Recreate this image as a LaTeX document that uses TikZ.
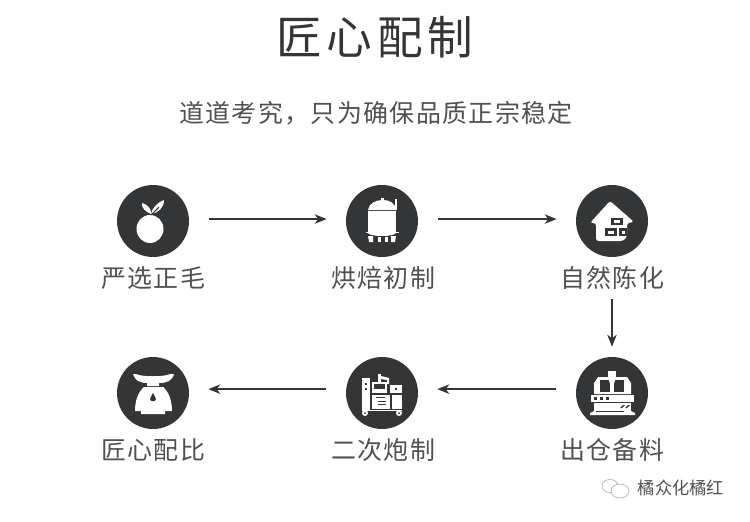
\documentclass[tikz,border=0pt]{standalone}
\usepackage{fontspec}
\setmainfont{Noto Sans CJK SC}
\newfontfamily\titlefont[LetterSpace=10]{Noto Sans CJK SC}
\newfontfamily\labelfont[LetterSpace=5.6]{Noto Sans CJK SC}
\usetikzlibrary{arrows.meta}
\definecolor{ink}{HTML}{333536}
\definecolor{caption}{HTML}{505050}

\begin{document}
\begin{tikzpicture}[x=0.02cm, y=-0.02cm]
	\tikzset{vertex/.style = {shape=circle,fill=ink,minimum size=1.44cm,inner sep=0pt}}
	\tikzset{edge/.style = {-{Stealth[length=6.8pt,width=5.4pt,inset=2pt]},draw=ink,line width=0.85pt,shorten >=0.38cm,shorten <=0.4cm}}
	\tikzset{caption/.style = {font=\labelfont\fontsize{14.2pt}{16pt}\selectfont,text=caption,inner sep=0pt}}
	\tikzset{icon/.style = {fill=white,draw=none}}
	\tikzset{cut/.style = {fill=ink,draw=none}}
	\useasboundingbox (0,0) rectangle (750,521);
	% headings
	\node[font=\titlefont\fontsize{26pt}{30pt}\selectfont,text=ink,inner sep=0pt] (title) at (375,37) {匠心配制};
	\node[caption] (subtitle) at (376,113) {道道考究，只为确保品质正宗稳定};
	% vertices
	\node[vertex] (orange) at (153,221) {};
	\node[vertex] (tank) at (382,221) {};
	\node[vertex] (house) at (612,221) {};
	\node[vertex] (machine) at (612,393) {};
	\node[vertex] (stove) at (382,393) {};
	\node[vertex] (scales) at (153,393) {};
	% captions
	\node[caption] (orangetext) at (153,278) {严选正毛};
	\node[caption] (tanktext) at (383,278) {烘焙初制};
	\node[caption] (housetext) at (612,278) {自然陈化};
	\node[caption] (machinetext) at (612,450) {出仓备料};
	\node[caption] (stovetext) at (383,450) {二次炮制};
	\node[caption] (scalestext) at (153,450) {匠心配比};
	% edges
	\draw[edge] ([yshift=1.1pt]orange.east) -- ([yshift=1.1pt]tank.west);
	\draw[edge] ([yshift=1.1pt]tank.east) -- ([yshift=1.1pt]house.west);
	\draw[edge,shorten <=0.18cm,shorten >=0.2cm] (housetext.south) -- (machine.north);
	\draw[edge] ([yshift=2.2pt]machine.west) -- ([yshift=2.2pt]stove.east);
	\draw[edge] ([yshift=2.2pt]stove.west) -- ([yshift=2.2pt]scales.east);
	% orange
	\begin{scope}[shift={(153,221)}]
		\fill[icon] (-3,8) ellipse (13.5 and 14);
		\fill[icon] (-2,-7) .. controls (-7,-9) and (-12,-13) .. (-11,-18) .. controls (-6,-17) and (-1,-12) .. (-2,-7) -- cycle;
		\fill[icon] (-2,-7) .. controls (-1,-13) and (5,-19) .. (11,-21) .. controls (11,-13) and (5,-8) .. (-2,-7) -- cycle;
		\draw[ink,line width=0.6pt] (-2,-6) -- (6,-14);
	\end{scope}
	% tank
	\begin{scope}[shift={(382,221)}]
		\fill[icon] (-14,-11) .. controls (-13,-18) and (-6,-21) .. (1,-21) .. controls (8,-21) and (13,-18) .. (14,-11) -- cycle;
		\fill[icon] (-1.5,-23) rectangle (1.5,-20);
		\fill[icon] (-14,-10) rectangle (14,11);
		\fill[icon] (-14,12) .. controls (-12,16) and (12,16) .. (14,12) -- cycle;
		\fill[icon] (-14,15) -- (-9,15) -- (-9,21) -- (-13,21) -- cycle;
		\fill[icon] (14,15) -- (9,15) -- (9,21) -- (13,21) -- cycle;
		\fill[icon] (-4,16) rectangle (-1,21);
		\fill[icon] (3,16) rectangle (6,21);
		\fill[icon] (13,-22) rectangle (14.5,-11);
		\fill[icon] (-16,11) rectangle (17,12);
	\end{scope}
	% house
	\begin{scope}[shift={(612,221)}]
		\fill[icon,rounded corners=1.5pt] (-2,-20) -- (22,1) -- (15,2) -- (15,16) -- (11,20) -- (-16,20) -- (-16,2) -- (-22,2) -- cycle;
		\fill[cut] (-1,-3.5) rectangle (11,4);
		\fill[icon] (2,-1) rectangle (8,1.5);
		\fill[cut] (-7,7) rectangle (5,15);
		\fill[icon] (-4,9.5) rectangle (2,12.5);
		\fill[cut] (7,7) rectangle (15,15);
		\fill[icon] (9.5,9.5) rectangle (13,12.5);
	\end{scope}
	% machine
	\begin{scope}[shift={(612,393)}]
		\fill[icon] (-4,-22) rectangle (4,-16);
		\fill[icon] (-14,-16) -- (15,-16) -- (19,-10) -- (19,1) -- (-18,1) -- (-18,-10) -- cycle;
		\fill[cut] (-12,-13) rectangle (-2,-1);
		\fill[cut] (2,-13) rectangle (12,-1);
		\fill[icon] (-4,-16) -- (4,-16) -- (1,-6) -- (-1,-6) -- cycle;
		\fill[icon] (-21,2) rectangle (22,9);
		\fill[icon] (-18,10) rectangle (19,20);
		\fill[icon] (-22,20) -- (-18,18) -- (19,18) -- (23,20) -- (23,22) -- (-22,22) -- cycle;
		\foreach \dotx in {-18,-12,-6}
			\fill[cut] (\dotx,3.5) rectangle ++(3,3);
		\fill[cut] (-16,18) rectangle (12,19);
		\fill[cut] (8,15) -- (11,12) -- (13,12) -- (10,15) -- cycle;
		\fill[cut] (13,15) -- (16,12) -- (18,12) -- (15,15) -- cycle;
	\end{scope}
	% stove
	\begin{scope}[shift={(382,393)}]
		\fill[icon] (-20,-15) rectangle (-12,17);
		\fill[cut] (-17.5,-10) rectangle (-15.5,-8);
		\fill[cut] (-17.5,-5) rectangle (-15.5,-3);
		\fill[icon] (-10,-11) rectangle (5,0);
		\fill[icon] (8,-8) rectangle (20,0);
		\fill[cut] (-8,-9) -- (3,-9) -- (3,-4) -- (-8,-4) -- cycle;
		\fill[icon] (-10,2) rectangle (8,16);
		\fill[icon] (10,2) rectangle (20,16);
		\fill[cut] (-4,8) rectangle (4,9);
		\fill[cut] (-4,11) rectangle (4,12);
		\fill[cut] (-6,4) rectangle (3,5);
		\fill[cut] (13,-5) rectangle (15,-3);
		\fill[icon] (-4,-19) rectangle (-1,-9);
		\fill[icon] (-1,-17) -- (7,-15) -- (7,-9) -- (5,-9) -- (5,-13) -- (-1,-14) -- cycle;
		\fill[icon] (-17,20) circle (3);
		\fill[icon] (17,20) circle (3);
		\fill[cut] (-17,20) circle (1);
		\fill[cut] (17,20) circle (1);
		\fill[icon] (-20,17) rectangle (20,18);
	\end{scope}
	% scales
	\begin{scope}[shift={(153,393)}]
		\fill[icon] (-20,-19) -- (-17,-19) .. controls (-12,-16) and (12,-16) .. (17,-19) -- (21,-19) .. controls (19,-12) and (14,-10) .. (6,-10) -- (6,-7) -- (-6,-7) -- (-6,-10) .. controls (-14,-10) and (-18,-13) .. (-20,-19) -- cycle;
		\fill[icon] (-9,-6) -- (10,-6) .. controls (16,-1) and (19,8) .. (19,18) -- (12,18) -- (12,21) -- (-12,21) -- (-12,18) -- (-18,18) .. controls (-18,8) and (-15,-1) .. (-9,-6) -- cycle;
		\fill[cut] (0,0) .. controls (-1,3) and (-3,4) .. (-3,6) .. controls (-3,9) and (3,9) .. (3,6) .. controls (3,4) and (1,3) .. (0,0) -- cycle;
	\end{scope}
	% watermark
	\node[font=\fontsize{9.8pt}{12pt}\selectfont,text=caption,inner sep=0pt] (mark) at (681,488) {橘众化橘红};
	\draw[gray!60,line width=0.4pt] (610,486) ellipse (8 and 6.5);
	\draw[gray!60,line width=0.4pt,fill=white] (620,491) ellipse (9 and 7);
\end{tikzpicture}
\end{document}
